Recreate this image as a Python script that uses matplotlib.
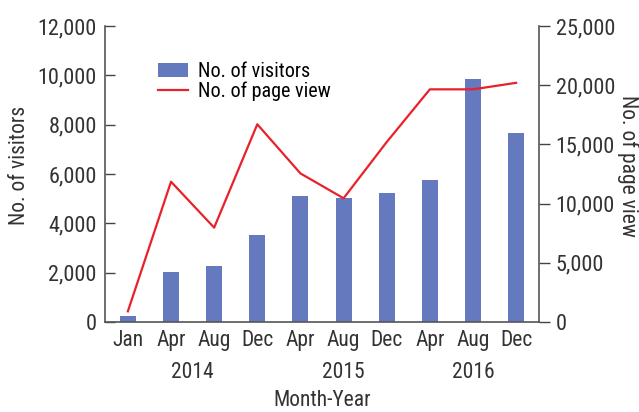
import numpy as np
import matplotlib.pyplot as plt
from matplotlib import font_manager

# Data
months = ['Jan', 'Apr', 'Aug', 'Dec', 'Apr', 'Aug', 'Dec', 'Apr', 'Aug', 'Dec']
years = ['2014', '2015', '2016']
year_pos = [1.5, 5, 8]
visitors = [250, 2030, 2270, 3520, 5100, 5020, 5230, 5750, 9850, 7660]
page_views = [900, 11850, 7970, 16700, 12550, 10450, 15200, 19650, 19650, 20200]

# look for a narrow/condensed face, the reference uses one
narrow = None
for f in font_manager.fontManager.ttflist:
    fn = f.fname.lower()
    if ('condensed' in fn or 'narrow' in fn) and 'bold' not in fn and 'italic' not in fn \
            and 'oblique' not in fn and 'light' not in fn:
        narrow = f
        if 'roboto' in fn or 'liberation' in fn:
            break
if narrow is not None:
    plt.rcParams['font.family'] = [narrow.name, 'DejaVu Sans']
    plt.rcParams['font.stretch'] = narrow.stretch
    scale = 1.0
else:
    plt.rcParams['font.family'] = ['DejaVu Sans']
    scale = 0.8

fs_tick = 16 * scale
fs_lab = 15.5 * scale

fig = plt.figure(figsize=(6.39, 4.12), dpi=100)
ax = fig.add_axes([105 / 639, 1 - 322 / 412, 434 / 639, 296 / 412])
ax2 = ax.twinx()

x = np.arange(len(months))
bars = ax.bar(x, visitors, width=0.37, color='#6479be', label='No. of visitors', zorder=2)
line, = ax2.plot(x, page_views, color='#e8212b', lw=1.6, label='No. of page view', zorder=3)

ax.set_xlim(-0.53, 9.53)
ax.set_ylim(0, 12000)
ax2.set_ylim(0, 25000)
ax.set_yticks(np.arange(0, 12001, 2000))
ax2.set_yticks(np.arange(0, 25001, 5000))
ax.set_yticklabels([f'{v:,}' for v in range(0, 12001, 2000)])
ax2.set_yticklabels([f'{v:,}' for v in range(0, 25001, 5000)])

ax.set_xticks(x)
ax.set_xticklabels(months)
ax.tick_params(axis='x', length=0, pad=6, labelsize=fs_lab, labelcolor='#333333')
ax.tick_params(axis='y', direction='in', length=7, width=1, color='#444444',
               labelsize=fs_tick, labelcolor='#333333', pad=6)
ax2.tick_params(axis='y', direction='out', length=8, width=1, color='#444444',
                labelsize=fs_tick, labelcolor='#333333', pad=4)

for a in (ax, ax2):
    a.spines['top'].set_visible(False)
    for s in ('left', 'right', 'bottom'):
        a.spines[s].set_color('#555555')
        a.spines[s].set_linewidth(1.2)
ax.spines['right'].set_visible(False)
ax2.spines['left'].set_visible(False)
ax2.spines['bottom'].set_visible(False)

# year labels under month ticks
for yr, p in zip(years, year_pos):
    ax.text(p, -0.17, yr, transform=ax.get_xaxis_transform(), ha='center', va='center',
            fontsize=fs_lab, color='#333333')

ax.text(0.5, -0.265, 'Month-Year', transform=ax.transAxes, ha='center', va='center',
        fontsize=fs_lab, color='#333333')
fig.text(20 / 639, 0.5 * (1 - 26 / 412 + 1 - 322 / 412) + 0.02, 'No. of visitors',
         rotation=90, ha='center', va='center', fontsize=fs_lab, color='#333333')
fig.text(628 / 639, 0.5 * (1 - 26 / 412 + 1 - 322 / 412) + 0.02, 'No. of page view',
         rotation=270, ha='center', va='center', fontsize=fs_lab, color='#333333')

ax.legend([bars, line], ['No. of visitors', 'No. of page view'], loc='upper left',
          bbox_to_anchor=(0.08, 0.94), frameon=False, fontsize=14.5 * scale,
          handlelength=1.5, handletextpad=0.5, labelspacing=0.05)

fig.savefig('out.png', dpi=100)
